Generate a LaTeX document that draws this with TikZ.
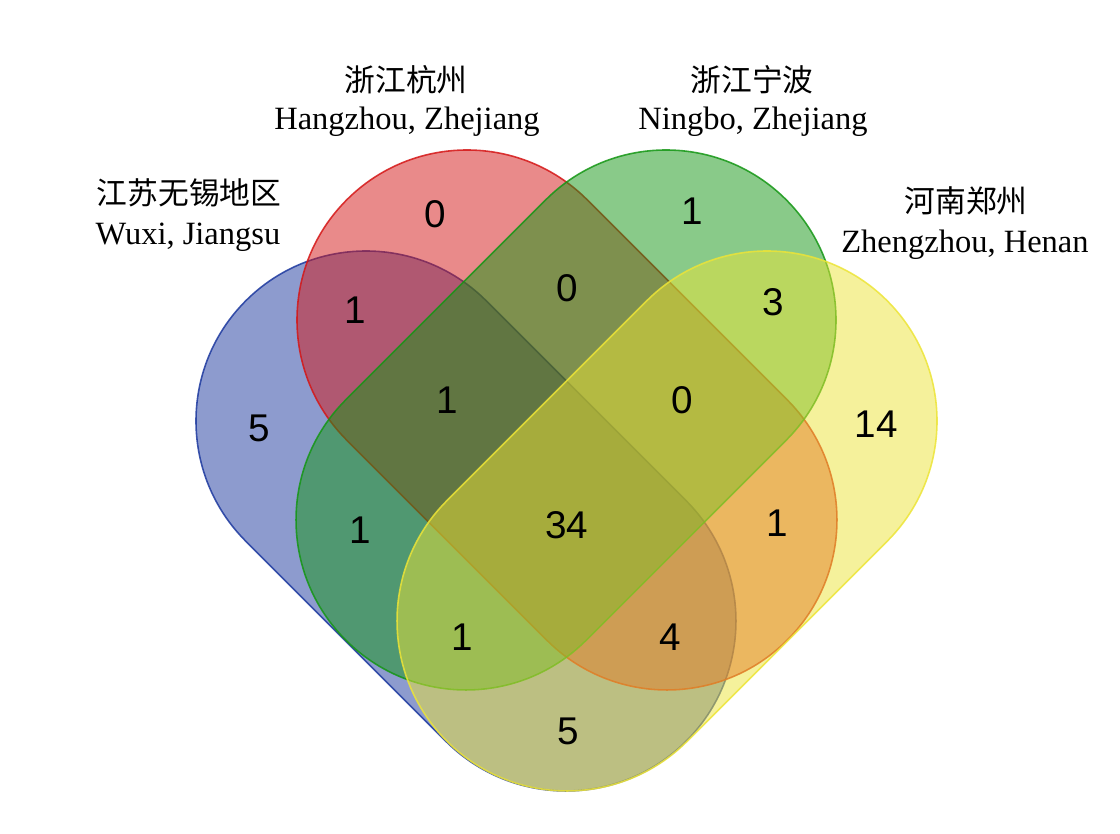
\documentclass[tikz,border=0pt]{standalone}
\usepackage{fontspec}
\usepackage{tikz}
\setmainfont{Liberation Serif}
\newfontfamily\cjk{Noto Sans CJK SC}
\newfontfamily\numfont{Liberation Sans}
\definecolor{wuxiblue}{RGB}{28,56,158}
\definecolor{hzred}{RGB}{212,22,22}
\definecolor{nbgreen}{RGB}{20,150,20}
\definecolor{zzyellow}{RGB}{236,228,55}
\newcommand{\vennlobe}[3]{%
	\begin{scope}[shift={#1},rotate=#2]
		\filldraw [lobe,draw=#3,fill=#3] (0,-170)--(282.8,-170)arc[start angle=-90,end angle=90,radius=170]--(0,170)arc[start angle=90,end angle=270,radius=170]--cycle;
	\end{scope}}

\begin{document}
\begin{tikzpicture}[x=0.02cm,y=0.02cm,
		lobe/.style={line width=0.9pt,fill opacity=0.5,draw opacity=0.85},
		cjklab/.style={inner sep=0pt,font=\cjk\fontsize{17.5}{20}\selectfont},
		latlab/.style={inner sep=0pt,anchor=base,font=\fontsize{18.5}{22}\selectfont},
		num/.style={inner sep=0pt,font=\numfont\fontsize{22}{26}\selectfont}]
		\useasboundingbox (0,0) rectangle (1120,-834);
		\vennlobe{(366,-421)}{-45}{wuxiblue}
		\vennlobe{(467,-320)}{-45}{hzred}
		\vennlobe{(666,-320)}{-135}{nbgreen}
		\vennlobe{(767,-421)}{-135}{zzyellow}
		\node [cjklab] (hzcn) at (406,-80){浙江杭州};
		\node [latlab] (hzen) at (407,-130){Hangzhou, Zhejiang};
		\node [cjklab] (nbcn) at (752,-80){浙江宁波};
		\node [latlab] (nben) at (753,-130){Ningbo, Zhejiang};
		\node [cjklab] (wxcn) at (189,-193){江苏无锡地区};
		\node [latlab] (wxen) at (188,-245){Wuxi, Jiangsu};
		\node [cjklab] (zzcn) at (966,-201){河南郑州};
		\node [latlab] (zzen) at (965,-253){Zhengzhou, Henan};
		\node [num] (r) at (435,-214){0};
		\node [num] (g) at (692,-211){1};
		\node [num] (b) at (259,-428){5};
		\node [num] (y) at (876,-424){14};
		\node [num] (br) at (355,-310){1};
		\node [num] (rg) at (567,-288){0};
		\node [num] (gy) at (773,-302){3};
		\node [num] (brg) at (447,-400){1};
		\node [num] (rgy) at (682,-400){0};
		\node [num] (bg) at (360,-530){1};
		\node [num] (all) at (567,-525){34};
		\node [num] (ry) at (777,-523){1};
		\node [num] (bgy) at (462,-637){1};
		\node [num] (bry) at (670,-637){4};
		\node [num] (by) at (568,-731){5};
	\end{tikzpicture}
\end{document}
